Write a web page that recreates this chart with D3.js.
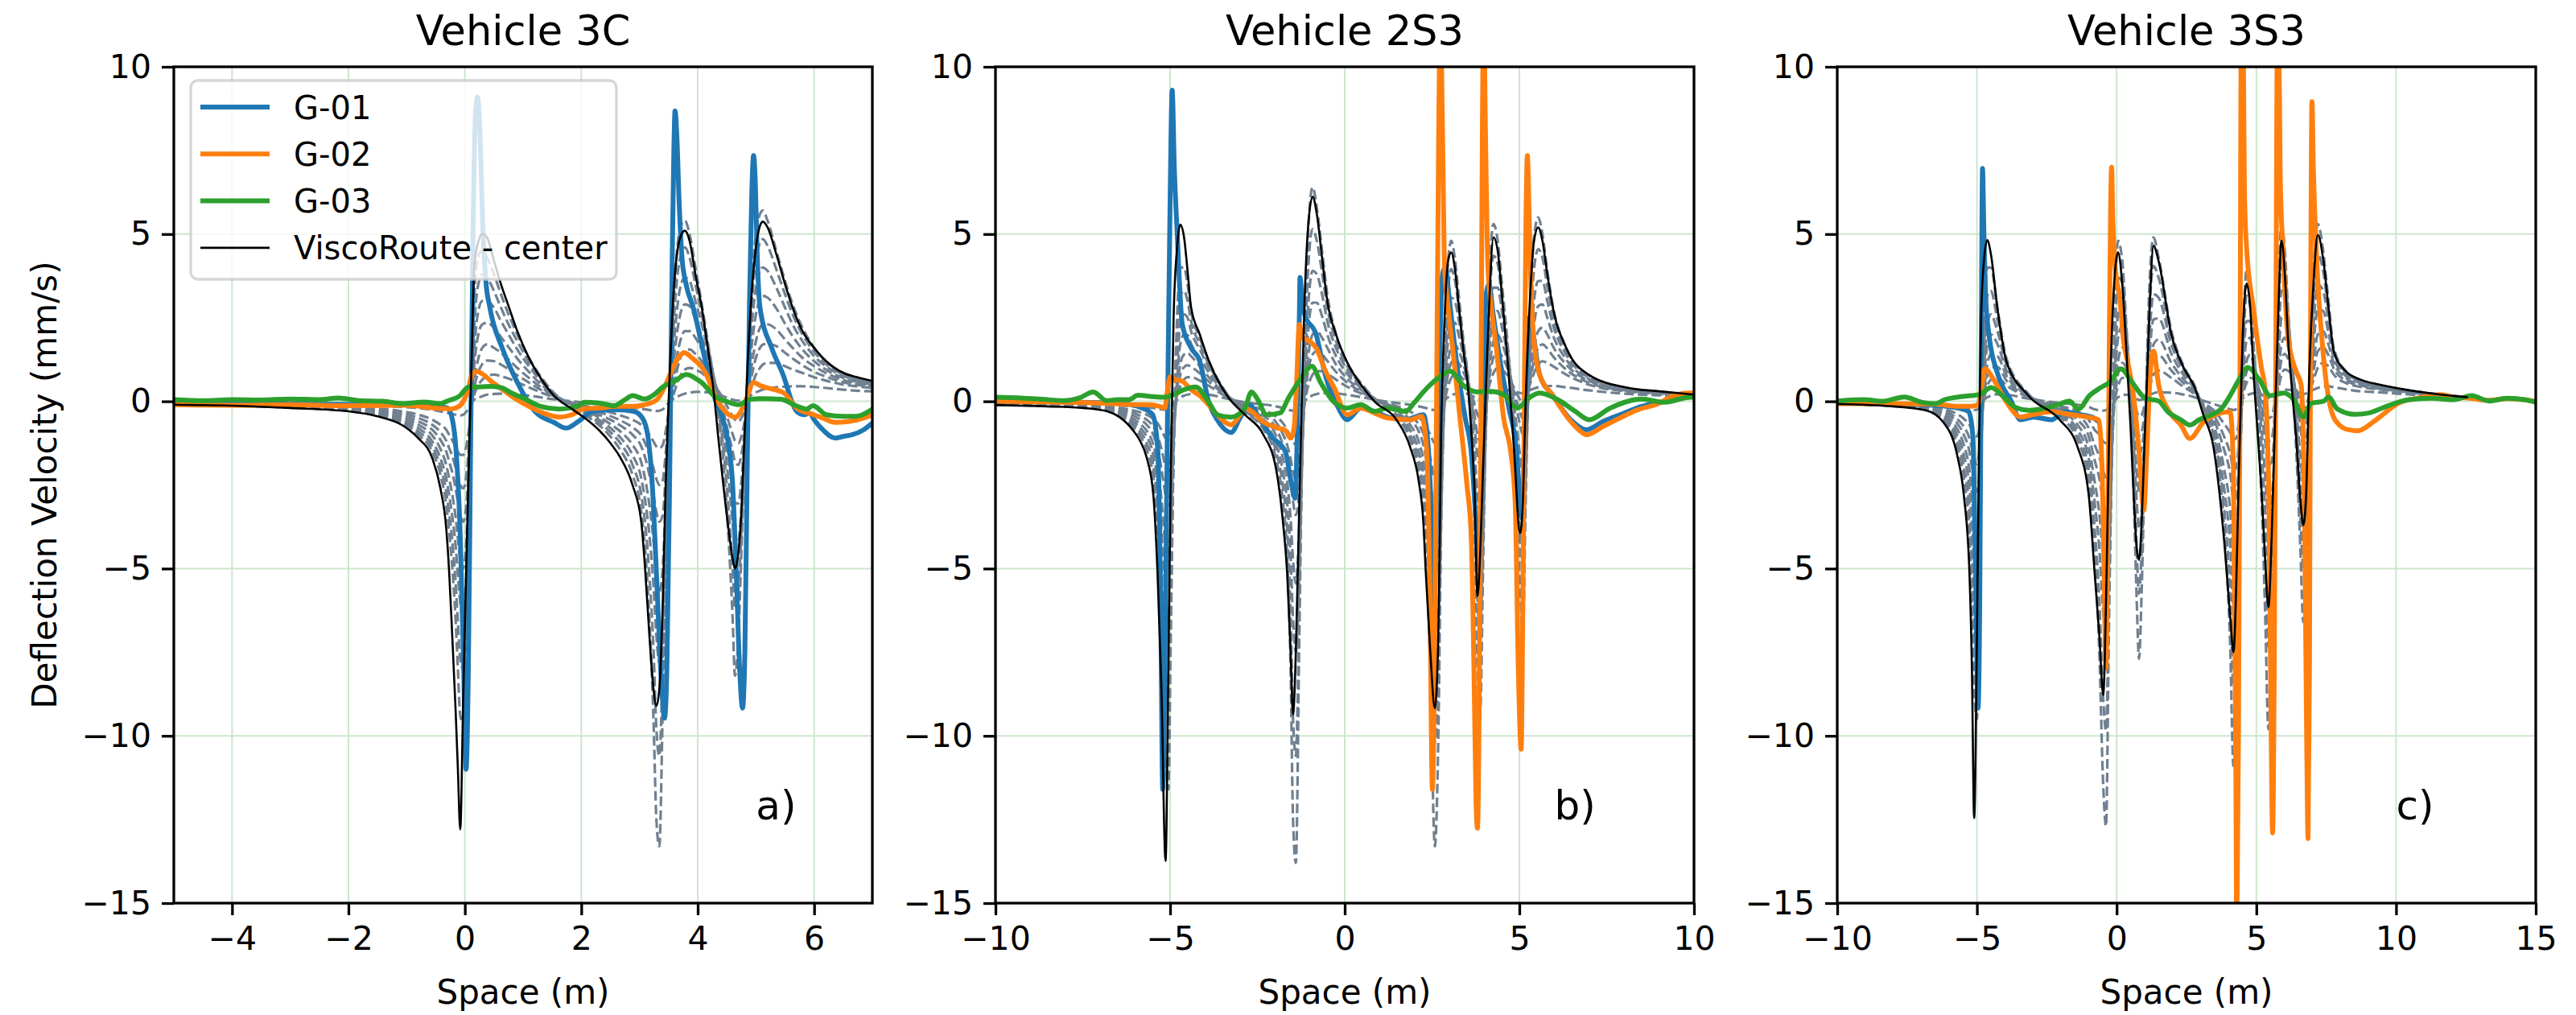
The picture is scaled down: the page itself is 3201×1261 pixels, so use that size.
<!DOCTYPE html>
<html><head><meta charset="utf-8">
<script src="https://cdn.jsdelivr.net/npm/d3@7"></script>
<style>body{margin:0;background:#fff}svg{display:block}text{font-family:"DejaVu Sans",sans-serif}</style>
</head><body>
<svg id="chart" width="3201" height="1261"></svg>
<script>
// ---------- DATA ----------
const titles = ["Vehicle 3C", "Vehicle 2S3", "Vehicle 3S3"];
const panelLabels = ["a)", "b)", "c)"];
const panelLabelX = [5, 6, 10];
const xDomains = [[-5, 7], [-10, 10], [-10, 15]];
const xTicks3C = [-4, -2, 0, 2, 4, 6];
const xTicks2S3 = [-10, -5, 0, 5, 10];
const xTicks3S3 = [-10, -5, 0, 5, 10, 15];
const yTicks = [-15, -10, -5, 0, 5, 10];
const legendLabels = ["G-01", "G-02", "G-03", "ViscoRoute - center"];
const seriesColors = ["#1f77b4", "#ff7f0e", "#2ca02c", "#000000"];

// ---- Vehicle 3C ----
const space3C = [-5,-4,-3,-2,-1.5,-1.07,-0.8,-0.56,-0.42,-0.32,-0.27,-0.22,-0.16,-0.12,-0.08,-0.03,0.03,0.08,0.12,0.16,0.22,0.3,0.38,0.5,0.62,0.75,0.9,1.1,1.3,1.53,1.84,2.1,2.31,2.5,2.67,2.88,3.03,3.1,3.17,3.24,3.29,3.34,3.4,3.45,3.5,3.56,3.63,3.7,3.78,3.86,3.96,4.07,4.18,4.28,4.36,4.44,4.52,4.6,4.64,4.7,4.75,4.8,4.86,4.93,5.0,5.07,5.12,5.2,5.35,5.5,5.63,5.8,6.0,6.2,6.5,6.72,7.0];
const center3C = [-0.1,-0.13,-0.2,-0.3,-0.45,-0.72,-1.1,-1.7,-2.6,-3.8,-5.1,-6.9,-9.2,-11,-12.8,-9,-4.5,-1,1.5,4.0,4.7,5.0,4.9,4.2,3.5,2.85,2.1,1.3,0.7,0.17,-0.23,-0.55,-0.87,-1.25,-1.68,-2.5,-3.6,-5.1,-7,-8.6,-9.1,-8.6,-6,-2.5,0,2.5,4.2,4.9,5.1,4.8,3.8,2.8,1.5,0.2,-1.2,-2.5,-3.7,-4.7,-5.0,-4.5,-3.3,-1.2,1.2,3.3,4.6,5.25,5.37,5.2,4.4,3.5,2.8,2.1,1.6,1.21,0.85,0.73,0.61];
const offsets3C = [
 [-0.1,-0.13,-0.19,-0.28,-0.42,-0.65,-1.0,-1.5,-2.2,-3.1,-3.9,-4.9,-6.5,-8.0,-9.4,-9.6,-6.5,-2.0,0.8,3.0,4.3,4.5,4.3,3.8,3.2,2.6,2.0,1.3,0.75,0.25,-0.15,-0.45,-0.72,-1.05,-1.45,-2.2,-3.3,-4.5,-6.5,-9.5,-12.5,-13.3,-9.0,-4.0,-0.5,2.0,4.2,5.2,5.4,5.0,4.0,2.9,1.7,0.6,-0.5,-1.8,-3.8,-6.5,-8.2,-7.0,-4.5,-1.8,1.2,3.6,5.0,5.6,5.7,5.4,4.5,3.6,2.9,2.2,1.6,1.2,0.85,0.7,0.58],
 [-0.1,-0.12,-0.18,-0.26,-0.39,-0.6,-0.9,-1.35,-1.95,-2.7,-3.35,-4.1,-5.4,-6.6,-7.7,-8.0,-5.8,-2.0,0.5,2.2,3.4,3.8,3.7,3.3,2.8,2.3,1.8,1.18,0.68,0.24,-0.13,-0.4,-0.64,-0.92,-1.25,-1.9,-2.8,-3.7,-5.2,-7.4,-9.8,-10.6,-7.8,-3.8,-0.65,1.5,3.4,4.3,4.6,4.3,3.5,2.6,1.6,0.65,-0.3,-1.4,-3.0,-5.0,-6.2,-5.6,-3.9,-1.7,0.9,3.0,4.2,4.75,4.85,4.65,3.95,3.2,2.6,2.0,1.48,1.12,0.8,0.66,0.55],
 [-0.1,-0.12,-0.17,-0.25,-0.36,-0.55,-0.8,-1.2,-1.7,-2.3,-2.8,-3.4,-4.3,-5.2,-6.0,-6.4,-5.0,-2.0,0.2,1.5,2.6,3.0,3.0,2.8,2.4,2.0,1.55,1.05,0.62,0.22,-0.12,-0.36,-0.56,-0.8,-1.08,-1.6,-2.3,-3.0,-4.0,-5.5,-7.0,-7.8,-6.5,-3.5,-0.8,1.0,2.5,3.4,3.7,3.6,3.0,2.3,1.5,0.7,-0.1,-1.0,-2.2,-3.6,-4.3,-4.2,-3.2,-1.6,0.6,2.3,3.4,3.9,4.0,3.9,3.4,2.8,2.3,1.8,1.35,1.05,0.76,0.63,0.53],
 [-0.1,-0.12,-0.16,-0.23,-0.32,-0.48,-0.7,-1.02,-1.42,-1.9,-2.3,-2.75,-3.45,-4.1,-4.7,-5.0,-4.0,-1.75,0.05,1.05,1.9,2.3,2.35,2.2,1.92,1.62,1.28,0.88,0.52,0.2,-0.1,-0.31,-0.48,-0.68,-0.9,-1.3,-1.82,-2.35,-3.1,-4.15,-5.15,-5.7,-4.95,-2.85,-0.75,0.65,1.85,2.6,2.9,2.85,2.45,1.92,1.3,0.68,0.05,-0.65,-1.55,-2.55,-3.05,-3.05,-2.4,-1.3,0.35,1.7,2.6,3.05,3.15,3.1,2.78,2.32,1.95,1.55,1.2,0.95,0.7,0.59,0.5],
 [-0.1,-0.12,-0.15,-0.21,-0.29,-0.42,-0.6,-0.85,-1.15,-1.5,-1.8,-2.1,-2.6,-3.0,-3.4,-3.6,-3.0,-1.5,-0.1,0.6,1.2,1.6,1.7,1.6,1.45,1.25,1.0,0.7,0.43,0.17,-0.08,-0.26,-0.4,-0.55,-0.72,-1.0,-1.35,-1.7,-2.2,-2.8,-3.3,-3.6,-3.4,-2.2,-0.7,0.3,1.2,1.8,2.1,2.1,1.9,1.55,1.1,0.65,0.2,-0.3,-0.9,-1.5,-1.8,-1.9,-1.6,-1.0,0.1,1.1,1.8,2.2,2.3,2.3,2.15,1.85,1.6,1.3,1.05,0.85,0.64,0.55,0.47],
 [-0.1,-0.11,-0.14,-0.19,-0.25,-0.36,-0.5,-0.7,-0.92,-1.18,-1.4,-1.62,-1.98,-2.25,-2.5,-2.6,-2.15,-1.1,-0.1,0.4,0.82,1.12,1.22,1.2,1.1,0.96,0.78,0.56,0.35,0.15,-0.06,-0.2,-0.32,-0.44,-0.57,-0.78,-1.02,-1.26,-1.6,-2.0,-2.32,-2.5,-2.35,-1.55,-0.52,0.18,0.82,1.28,1.52,1.55,1.42,1.2,0.89,0.56,0.25,-0.11,-0.55,-0.98,-1.18,-1.25,-1.05,-0.65,0.08,0.78,1.3,1.6,1.7,1.72,1.65,1.45,1.28,1.08,0.88,0.74,0.57,0.5,0.44],
 [-0.1,-0.11,-0.13,-0.17,-0.22,-0.3,-0.4,-0.55,-0.7,-0.85,-1.0,-1.15,-1.35,-1.5,-1.6,-1.6,-1.3,-0.7,-0.1,0.2,0.45,0.65,0.75,0.8,0.75,0.68,0.57,0.42,0.27,0.12,-0.04,-0.15,-0.24,-0.33,-0.42,-0.55,-0.7,-0.82,-1.0,-1.2,-1.35,-1.4,-1.3,-0.9,-0.35,0.05,0.45,0.75,0.95,1.0,0.95,0.85,0.68,0.48,0.3,0.08,-0.2,-0.45,-0.55,-0.6,-0.5,-0.3,0.05,0.45,0.8,1.0,1.1,1.15,1.15,1.05,0.95,0.85,0.72,0.62,0.5,0.45,0.4],
 [-0.1,-0.1,-0.1,-0.12,-0.14,-0.17,-0.2,-0.25,-0.3,-0.33,-0.36,-0.38,-0.4,-0.42,-0.42,-0.4,-0.3,-0.15,-0.02,0.05,0.1,0.15,0.2,0.22,0.23,0.22,0.2,0.17,0.12,0.06,0,-0.05,-0.09,-0.12,-0.15,-0.19,-0.22,-0.24,-0.26,-0.28,-0.29,-0.28,-0.24,-0.15,-0.05,0.05,0.12,0.18,0.23,0.26,0.28,0.28,0.27,0.24,0.2,0.15,0.1,0.05,0.03,0.02,0.03,0.06,0.12,0.2,0.27,0.32,0.35,0.38,0.42,0.44,0.45,0.45,0.43,0.4,0.35,0.32,0.3]
];
const g01_3C = [[-5,-0.05],[-3,-0.08],[-1,-0.1],[-0.5,-0.15],[-0.3,-0.2],[-0.22,-0.5],[-0.15,-1.5],[-0.08,-4],[-0.02,-8],[0.02,-11],[0.06,-8],[0.1,-1],[0.14,5],[0.18,8.5],[0.22,9.1],[0.26,8],[0.31,5.1],[0.36,3.6],[0.43,2.8],[0.64,1.6],[0.9,0.57],[1.21,-0.31],[1.53,-0.63],[1.74,-0.8],[1.95,-0.6],[2.2,-0.3],[2.6,-0.25],[2.9,-0.3],[3.05,-0.5],[3.14,-1.0],[3.22,-2.5],[3.3,-5.5],[3.38,-8.5],[3.43,-9.47],[3.47,-8],[3.52,-2],[3.56,4],[3.59,7.5],[3.61,8.68],[3.64,8],[3.68,6],[3.73,4.3],[3.8,3.5],[3.92,2.82],[4.12,1.3],[4.28,0.17],[4.44,-0.58],[4.52,-1.2],[4.6,-2.5],[4.66,-5],[4.72,-8],[4.77,-9.17],[4.81,-7.5],[4.85,-2],[4.89,3],[4.93,6.3],[4.96,7.35],[4.99,6.5],[5.02,4.5],[5.07,2.8],[5.27,1.6],[5.48,0.73],[5.63,-0.07],[5.7,-0.3],[5.84,-0.4],[5.92,-0.35],[6.0,-0.55],[6.15,-0.85],[6.36,-1.1],[6.5,-1.05],[6.65,-1.0],[6.85,-0.85],[7.0,-0.65]];
const g02_3C = [[-5,-0.1],[-4,-0.12],[-3,-0.1],[-2,-0.13],[-1,-0.12],[-0.5,-0.2],[-0.24,-0.23],[-0.1,-0.15],[0.0,0.1],[0.07,0.45],[0.12,0.8],[0.2,0.89],[0.3,0.82],[0.45,0.6],[0.65,0.35],[0.85,0.1],[1.1,-0.15],[1.35,-0.35],[1.62,-0.47],[1.84,-0.4],[2.05,-0.22],[2.3,-0.2],[2.6,-0.15],[2.9,-0.15],[3.09,-0.1],[3.3,0.05],[3.45,0.5],[3.6,1.1],[3.77,1.45],[3.9,1.3],[4.12,0.9],[4.33,0.05],[4.5,-0.35],[4.65,-0.47],[4.8,-0.1],[4.96,0.56],[5.1,0.45],[5.2,0.4],[5.48,0.25],[5.7,-0.2],[5.99,-0.4],[6.15,-0.5],[6.36,-0.63],[6.6,-0.6],[6.85,-0.5],[7.0,-0.4]];
const g03_3C = [[-5,0.05],[-4.5,0.02],[-4,0.05],[-3.5,0.04],[-3,0.07],[-2.5,0.05],[-2.17,0.1],[-1.8,0.02],[-1.4,0.0],[-1.07,-0.07],[-0.7,-0.02],[-0.42,-0.07],[-0.3,0.01],[-0.1,0.15],[0.07,0.43],[0.25,0.43],[0.45,0.45],[0.64,0.4],[0.8,0.25],[1.0,0.1],[1.3,-0.15],[1.62,-0.23],[1.95,-0.13],[2.05,-0.03],[2.3,-0.05],[2.56,-0.13],[2.75,0.05],[2.88,0.17],[3.09,0.07],[3.25,0.2],[3.4,0.43],[3.6,0.6],[3.81,0.8],[3.95,0.7],[4.07,0.56],[4.28,0.17],[4.49,0.0],[4.7,-0.1],[4.9,0.06],[5.1,0.08],[5.43,0.06],[5.69,-0.13],[5.87,-0.23],[5.98,-0.13],[6.21,-0.4],[6.5,-0.45],[6.72,-0.45],[7.0,-0.23]];

// ---- Vehicle 2S3 ----
const space2S3 = [-10,-8.5,-7.47,-6.8,-6.45,-6.06,-5.85,-5.67,-5.48,-5.36,-5.25,-5.13,-5.05,-4.98,-4.9,-4.8,-4.71,-4.6,-4.5,-4.4,-4.15,-3.89,-3.37,-2.86,-2.35,-1.97,-1.77,-1.65,-1.55,-1.48,-1.4,-1.3,-1.23,-1.15,-1.05,-0.92,-0.8,-0.65,-0.5,-0.25,0.1,0.5,0.85,1.48,1.87,2.12,2.25,2.32,2.45,2.58,2.68,2.76,2.86,2.96,3.05,3.15,3.27,3.4,3.53,3.63,3.72,3.8,3.88,3.96,4.03,4.12,4.26,4.38,4.5,4.68,4.85,5.02,5.1,5.18,5.3,5.42,5.54,5.66,5.8,5.96,6.34,6.98,8.13,9.0,10];
const center2S3 = [-0.11,-0.15,-0.2,-0.3,-0.47,-0.87,-1.2,-1.68,-2.8,-5.13,-8.5,-13.74,-8,-2,2.5,4.6,5.28,4.9,3.9,2.82,2.0,1.21,0.17,-0.4,-0.96,-2.0,-3.6,-5.1,-7.5,-9.36,-7.5,-3,0,3,5.2,6.12,5.6,4.3,3.0,2.0,1.1,0.45,0.0,-0.55,-1.36,-2.4,-3.6,-5.1,-7.5,-9.17,-7,-1,2.5,4.2,4.45,4.0,2.8,1.5,0.4,-1,-2.8,-5.82,-4.5,-2,0,2.5,4.9,4.5,3.2,1.0,-1.5,-3.95,-3.0,0,3,4.8,5.2,4.8,3.8,2.8,1.6,0.8,0.4,0.3,0.2];
const offsets2S3 = [
 [-0.11,-0.14,-0.19,-0.28,-0.43,-0.78,-1.05,-1.45,-2.3,-3.8,-6.5,-10.5,-11.6,-7.0,-1.5,2.5,4.0,4.0,3.5,2.7,1.9,1.2,0.22,-0.32,-0.8,-1.7,-3.0,-4.6,-8.0,-12.5,-13.8,-7.0,-2.0,1.8,5.0,6.4,5.8,4.5,3.2,2.0,1.1,0.5,0.08,-0.45,-1.15,-2.1,-3.2,-4.4,-8.0,-13.3,-10.0,-3.5,1.5,4.2,4.8,4.3,3.1,1.8,0.6,-1.2,-4.0,-8.0,-9.2,-5.0,-1.0,3.0,5.3,4.8,3.5,1.5,-1.2,-5.5,-7.0,-3.0,2.5,4.9,5.5,5.0,3.9,2.85,1.6,0.78,0.39,0.29,0.2],
 [-0.1,-0.13,-0.18,-0.26,-0.39,-0.69,-0.92,-1.25,-1.95,-3.1,-5.1,-8.1,-9.1,-6.0,-1.5,1.75,3.15,3.3,3.0,2.4,1.72,1.1,0.21,-0.29,-0.71,-1.48,-2.55,-3.8,-6.3,-9.5,-10.6,-6.0,-2.1,1.2,3.9,5.15,4.8,3.85,2.8,1.8,1.0,0.46,0.08,-0.4,-1.0,-1.8,-2.7,-3.65,-6.3,-10.2,-8.2,-3.5,1.0,3.35,3.95,3.65,2.75,1.7,0.65,-0.85,-3.1,-6.0,-6.9,-4.15,-1.1,2.3,4.35,4.1,3.1,1.45,-0.8,-4.0,-5.1,-2.4,1.85,3.95,4.55,4.3,3.45,2.58,1.5,0.75,0.38,0.28,0.2],
 [-0.1,-0.13,-0.17,-0.24,-0.35,-0.6,-0.8,-1.05,-1.6,-2.4,-3.8,-5.8,-6.6,-5.0,-1.5,1.0,2.3,2.6,2.5,2.1,1.55,1.0,0.2,-0.26,-0.62,-1.25,-2.1,-3.0,-4.6,-6.5,-7.5,-5.0,-2.2,0.6,2.8,3.9,3.8,3.2,2.4,1.6,0.9,0.42,0.08,-0.35,-0.85,-1.5,-2.2,-2.9,-4.6,-7.2,-6.5,-3.5,0.5,2.5,3.1,3.0,2.4,1.6,0.7,-0.5,-2.2,-4.0,-4.6,-3.3,-1.2,1.6,3.4,3.4,2.7,1.4,-0.4,-2.5,-3.2,-1.8,1.2,3.0,3.6,3.6,3.0,2.3,1.4,0.72,0.36,0.27,0.19],
 [-0.1,-0.12,-0.16,-0.22,-0.31,-0.51,-0.68,-0.88,-1.3,-1.9,-2.9,-4.3,-4.85,-3.8,-1.25,0.65,1.7,2.0,1.98,1.72,1.3,0.86,0.18,-0.22,-0.52,-1.02,-1.7,-2.38,-3.5,-4.75,-5.45,-3.85,-1.85,0.3,2.05,2.95,2.95,2.55,2.0,1.35,0.78,0.37,0.08,-0.3,-0.7,-1.2,-1.75,-2.28,-3.5,-5.25,-4.9,-2.85,0.25,1.85,2.35,2.35,1.95,1.35,0.65,-0.22,-1.5,-2.8,-3.25,-2.4,-0.9,1.15,2.6,2.7,2.22,1.25,-0.12,-1.6,-2.1,-1.15,0.9,2.3,2.85,2.9,2.5,1.98,1.25,0.67,0.35,0.26,0.18],
 [-0.1,-0.12,-0.15,-0.2,-0.27,-0.42,-0.55,-0.7,-1.0,-1.4,-2.0,-2.8,-3.1,-2.6,-1.0,0.3,1.1,1.4,1.45,1.35,1.05,0.72,0.17,-0.18,-0.42,-0.8,-1.3,-1.75,-2.4,-3.0,-3.4,-2.7,-1.5,0.0,1.3,2.0,2.1,1.9,1.6,1.1,0.65,0.32,0.07,-0.24,-0.55,-0.9,-1.3,-1.65,-2.4,-3.3,-3.3,-2.2,0.0,1.2,1.6,1.7,1.5,1.1,0.6,0.05,-0.8,-1.6,-1.9,-1.5,-0.6,0.7,1.8,2.0,1.75,1.1,0.15,-0.7,-1.0,-0.5,0.6,1.6,2.1,2.2,2.0,1.65,1.1,0.62,0.33,0.25,0.18],
 [-0.1,-0.11,-0.14,-0.18,-0.23,-0.34,-0.44,-0.55,-0.76,-1.02,-1.42,-1.95,-2.1,-1.75,-0.68,0.2,0.78,1.02,1.08,1.03,0.84,0.59,0.15,-0.14,-0.34,-0.62,-0.98,-1.3,-1.72,-2.1,-2.35,-1.85,-1.02,-0.02,0.88,1.4,1.5,1.4,1.21,0.88,0.54,0.27,0.06,-0.19,-0.42,-0.69,-0.96,-1.2,-1.7,-2.28,-2.25,-1.5,0.0,0.82,1.15,1.25,1.14,0.88,0.52,0.14,-0.45,-1.0,-1.2,-0.92,-0.3,0.55,1.32,1.5,1.35,0.92,0.28,-0.32,-0.52,-0.18,0.55,1.22,1.6,1.7,1.58,1.35,0.95,0.56,0.31,0.24,0.17],
 [-0.1,-0.11,-0.13,-0.16,-0.2,-0.27,-0.33,-0.4,-0.52,-0.65,-0.85,-1.1,-1.15,-0.9,-0.35,0.1,0.45,0.65,0.72,0.72,0.62,0.46,0.13,-0.1,-0.25,-0.45,-0.65,-0.85,-1.05,-1.2,-1.3,-1.0,-0.55,-0.05,0.45,0.8,0.9,0.9,0.82,0.65,0.42,0.22,0.06,-0.14,-0.3,-0.48,-0.62,-0.75,-1.0,-1.25,-1.2,-0.8,0.0,0.45,0.7,0.8,0.78,0.65,0.45,0.22,-0.1,-0.4,-0.5,-0.35,0.0,0.4,0.85,1.0,0.95,0.75,0.4,0.05,-0.05,0.15,0.5,0.85,1.1,1.2,1.15,1.05,0.8,0.5,0.29,0.22,0.16],
 [-0.1,-0.1,-0.11,-0.12,-0.13,-0.15,-0.16,-0.18,-0.2,-0.22,-0.24,-0.25,-0.24,-0.18,-0.05,0.05,0.12,0.17,0.2,0.22,0.22,0.2,0.08,-0.03,-0.09,-0.15,-0.2,-0.24,-0.27,-0.28,-0.27,-0.2,-0.1,0.0,0.1,0.18,0.22,0.24,0.25,0.24,0.19,0.12,0.05,-0.05,-0.1,-0.15,-0.18,-0.2,-0.24,-0.26,-0.22,-0.12,0.02,0.12,0.18,0.22,0.24,0.24,0.22,0.18,0.12,0.07,0.05,0.07,0.12,0.2,0.28,0.32,0.34,0.33,0.3,0.25,0.24,0.27,0.33,0.38,0.42,0.45,0.46,0.46,0.42,0.33,0.22,0.18,0.14]
];
const g01_2S3 = [[-10,0.0],[-8,-0.02],[-6.5,-0.05],[-5.8,-0.2],[-5.5,-0.4],[-5.35,-1.5],[-5.27,-6],[-5.21,-11.6],[-5.15,-8],[-5.07,0],[-5.0,6],[-4.94,9.3],[-4.88,7],[-4.8,5.1],[-4.65,2.3],[-4.4,1.6],[-4.15,1.2],[-3.9,0.0],[-3.65,-0.55],[-3.25,-0.93],[-3.0,-0.5],[-2.74,-0.1],[-2.5,-0.4],[-2.1,-1.05],[-1.7,-1.5],[-1.52,-2.5],[-1.42,-2.9],[-1.36,-1],[-1.3,2.5],[-1.28,3.7],[-1.22,3.0],[-1.15,2.6],[-0.82,2.0],[-0.56,0.8],[-0.18,-0.2],[0.07,-0.55],[0.46,-0.2],[0.85,-0.3],[1.23,-0.47],[1.74,-0.55],[2.25,-0.4],[2.4,-1.5],[2.5,-4],[2.56,-6],[2.64,-3],[2.72,1.5],[2.8,3.8],[2.88,4.0],[3.0,3.0],[3.2,1.2],[3.45,-0.5],[3.62,-1.5],[3.75,-3.5],[3.83,-5.0],[3.9,-3],[3.97,0.5],[4.05,3.2],[4.13,3.5],[4.25,2.6],[4.45,1.2],[4.7,-0.2],[4.92,-1.5],[5.02,-3.0],[5.08,-3.5],[5.14,-1.5],[5.2,1.0],[5.28,2.5],[5.36,2.2],[5.58,0.8],[5.96,0.17],[6.47,-0.55],[6.92,-0.85],[7.4,-0.6],[7.88,-0.4],[8.5,-0.15],[9.15,0.0],[9.5,0.1],[10,0.2]];
const g02_2S3 = [[-10,0.0],[-8.5,-0.02],[-7,-0.05],[-6,-0.1],[-5.6,-0.1],[-5.3,-0.15],[-5.15,-0.2],[-5.08,0.3],[-5.0,0.73],[-4.85,0.65],[-4.65,0.6],[-4.4,0.35],[-4.15,0.17],[-3.9,-0.1],[-3.65,-0.4],[-3.25,-0.7],[-3.0,-0.4],[-2.86,-0.2],[-2.6,-0.35],[-2.35,-0.6],[-1.9,-0.8],[-1.7,-0.87],[-1.55,-1.1],[-1.45,-0.8],[-1.38,0.5],[-1.3,2.3],[-1.22,1.9],[-1.0,1.8],[-0.82,1.6],[-0.55,0.9],[-0.3,0.4],[0.07,-0.4],[0.46,-0.2],[0.85,-0.35],[1.23,-0.5],[1.87,-0.55],[2.2,-0.45],[2.35,-1.5],[2.44,-6],[2.51,-11.6],[2.57,-8],[2.63,0],[2.69,8],[2.74,11.5],[2.8,8],[2.86,4],[2.96,2.8],[3.1,1.5],[3.3,-0.5],[3.5,-2.5],[3.62,-4],[3.7,-8],[3.76,-12],[3.8,-12.76],[3.85,-9],[3.9,0],[3.94,8],[3.98,11.5],[4.03,8],[4.1,4],[4.2,2.8],[4.35,1.5],[4.55,-0.5],[4.75,-1.5],[4.88,-3],[4.97,-8],[5.05,-10.4],[5.1,-6],[5.15,1],[5.19,5.5],[5.23,7.35],[5.27,6],[5.33,3.5],[5.42,1.8],[5.58,0.8],[5.96,0.17],[6.47,-0.6],[6.7,-0.85],[6.92,-1.0],[7.4,-0.75],[7.88,-0.5],[8.4,-0.25],[8.9,-0.1],[9.5,0.2],[9.9,0.25],[10,0.25]];
const g03_2S3 = [[-10,0.12],[-8.74,0.07],[-8.05,0.02],[-7.6,0.1],[-7.2,0.28],[-6.82,0.02],[-6.5,0.05],[-6.18,0.05],[-5.92,0.18],[-5.5,0.14],[-5.15,0.12],[-4.9,0.2],[-4.65,0.33],[-4.27,0.43],[-3.89,-0.03],[-3.65,-0.4],[-3.25,-0.47],[-2.86,-0.2],[-2.67,0.28],[-2.5,0.07],[-2.24,-0.4],[-1.86,-0.35],[-1.6,0.12],[-1.27,0.66],[-0.94,1.05],[-0.69,0.56],[-0.3,-0.03],[0.07,-0.2],[0.46,-0.1],[0.85,-0.3],[1.23,-0.2],[1.74,-0.3],[2.0,-0.03],[2.25,0.28],[2.63,0.66],[3.02,0.9],[3.4,0.47],[3.8,0.28],[4.17,0.3],[4.55,0.2],[4.94,-0.2],[5.3,0.12],[5.58,0.25],[6.1,0.05],[6.6,-0.3],[7.0,-0.55],[7.6,-0.2],[8.5,0.07],[9.15,-0.03],[9.9,0.12],[10,0.12]];

// ---- Vehicle 3S3 ----
const space3S3 = [-10,-8,-6.83,-6.2,-5.71,-5.47,-5.27,-5.18,-5.1,-5.0,-4.92,-4.85,-4.75,-4.63,-4.5,-4.27,-3.95,-3.16,-2.04,-1.4,-1.0,-0.79,-0.62,-0.48,-0.38,-0.28,-0.15,0.05,0.2,0.35,0.5,0.62,0.72,0.8,0.9,1.0,1.08,1.18,1.32,1.5,1.96,2.4,2.8,3.1,3.45,3.83,4.07,4.18,4.28,4.36,4.51,4.65,4.78,4.89,5.05,5.18,5.32,5.43,5.55,5.66,5.78,5.9,6.02,6.13,6.28,6.43,6.58,6.68,6.78,6.9,7.05,7.2,7.39,7.58,7.77,8.2,8.73,9.4,10.05,11.6,12.57];
const center3S3 = [-0.08,-0.15,-0.27,-0.63,-1.6,-2.8,-5.1,-8,-12.46,-7,-1,2.5,4.2,4.82,4.4,2.8,1.21,0.17,-0.55,-1.36,-2.8,-5.1,-7,-8.78,-6,-1.5,2.5,4.45,3.5,1.5,-0.8,-3.0,-4.4,-4.74,-3.5,-1.2,0.5,2.8,4.65,4.2,2.0,1.0,0.4,-0.4,-1.3,-4.0,-6.5,-7.5,-5.5,-2.6,1.93,3.52,2.8,1.0,-1.0,-2.6,-4.8,-6.15,-4.0,-0.8,2.5,4.8,3.8,1.93,0.3,-1.15,-3.0,-3.7,-2.8,1.0,3.6,4.97,4.26,2.82,1.5,0.9,0.65,0.5,0.39,0.2,0.12];
const offsets3S3 = [
 [-0.08,-0.14,-0.25,-0.56,-1.35,-2.3,-4.0,-6.0,-8.5,-9.5,-6.0,-1.5,2.0,4.0,4.0,2.8,1.3,0.22,-0.45,-1.15,-2.4,-4.5,-7.5,-11.5,-12.7,-7.0,-0.5,4.8,4.2,2.2,-0.2,-3.0,-6.0,-7.7,-5.5,-2.0,1.0,3.6,4.9,4.3,2.1,1.05,0.45,-0.3,-1.1,-3.6,-7.5,-10.9,-9.5,-5.0,1.5,3.9,3.3,1.8,-0.6,-2.8,-6.5,-9.8,-7.0,-2.0,3.0,5.3,4.5,2.8,0.8,-1.5,-4.5,-6.6,-5.5,-0.5,3.8,5.3,4.5,3.0,1.6,0.9,0.63,0.48,0.38,0.2,0.12],
 [-0.08,-0.13,-0.23,-0.5,-1.18,-1.95,-3.3,-4.8,-6.65,-7.5,-5.1,-1.55,1.4,3.15,3.3,2.45,1.2,0.21,-0.4,-1.0,-2.05,-3.75,-5.95,-8.9,-9.85,-6.0,-0.85,3.7,3.55,2.1,0.1,-2.2,-4.5,-5.75,-4.35,-1.75,0.65,2.8,4.05,3.7,1.9,0.98,0.42,-0.25,-0.95,-3.05,-5.95,-8.55,-7.65,-4.4,1.05,3.15,2.85,1.7,-0.25,-2.05,-4.9,-7.35,-5.6,-1.9,2.25,4.3,3.9,2.65,0.95,-1.05,-3.5,-5.0,-4.35,-0.5,3.05,4.4,3.9,2.7,1.52,0.86,0.6,0.46,0.37,0.2,0.12],
 [-0.08,-0.13,-0.22,-0.45,-1.0,-1.6,-2.6,-3.6,-4.8,-5.5,-4.2,-1.6,0.8,2.3,2.6,2.1,1.1,0.2,-0.35,-0.85,-1.7,-3.0,-4.4,-6.3,-7.0,-5.0,-1.2,2.6,2.9,2.0,0.4,-1.4,-3.0,-3.8,-3.2,-1.5,0.3,2.0,3.2,3.1,1.7,0.9,0.4,-0.2,-0.8,-2.5,-4.4,-6.2,-5.8,-3.8,0.6,2.4,2.4,1.6,0.1,-1.3,-3.3,-4.9,-4.2,-1.8,1.5,3.3,3.3,2.5,1.1,-0.6,-2.5,-3.4,-3.2,-0.5,2.3,3.5,3.3,2.4,1.45,0.82,0.58,0.45,0.36,0.19,0.12],
 [-0.08,-0.12,-0.2,-0.39,-0.82,-1.3,-2.05,-2.78,-3.6,-4.1,-3.2,-1.3,0.5,1.7,2.0,1.72,0.94,0.18,-0.3,-0.7,-1.38,-2.38,-3.35,-4.65,-5.15,-3.8,-1.05,1.9,2.25,1.65,0.48,-0.9,-2.1,-2.7,-2.3,-1.1,0.15,1.45,2.45,2.48,1.42,0.78,0.35,-0.15,-0.65,-1.95,-3.3,-4.55,-4.35,-2.9,0.4,1.8,1.9,1.38,0.28,-0.8,-2.25,-3.4,-3.0,-1.3,1.05,2.5,2.6,2.08,1.05,-0.25,-1.65,-2.35,-2.2,-0.25,1.75,2.75,2.7,2.05,1.3,0.76,0.55,0.43,0.35,0.19,0.12],
 [-0.08,-0.12,-0.18,-0.33,-0.65,-1.0,-1.5,-1.95,-2.4,-2.7,-2.2,-1.0,0.2,1.1,1.4,1.35,0.78,0.17,-0.24,-0.55,-1.05,-1.75,-2.3,-3.0,-3.3,-2.6,-0.9,1.2,1.6,1.3,0.55,-0.4,-1.2,-1.6,-1.4,-0.7,0.0,0.9,1.7,1.85,1.15,0.65,0.3,-0.1,-0.5,-1.4,-2.2,-2.9,-2.9,-2.0,0.2,1.2,1.4,1.15,0.45,-0.3,-1.2,-1.9,-1.8,-0.8,0.6,1.7,1.9,1.65,1.0,0.1,-0.8,-1.3,-1.2,0.0,1.2,2.0,2.1,1.7,1.15,0.7,0.51,0.41,0.33,0.18,0.11],
 [-0.08,-0.11,-0.16,-0.28,-0.52,-0.76,-1.1,-1.4,-1.7,-1.88,-1.52,-0.7,0.12,0.78,1.02,1.03,0.63,0.15,-0.19,-0.42,-0.8,-1.3,-1.65,-2.1,-2.28,-1.78,-0.6,0.82,1.15,0.99,0.48,-0.18,-0.75,-1.02,-0.9,-0.41,0.06,0.66,1.25,1.38,0.92,0.54,0.26,-0.07,-0.38,-1.02,-1.58,-2.02,-2.0,-1.35,0.18,0.88,1.05,0.92,0.45,-0.08,-0.72,-1.2,-1.12,-0.42,0.48,1.25,1.42,1.28,0.85,0.22,-0.4,-0.75,-0.68,0.12,0.92,1.5,1.62,1.38,0.98,0.62,0.47,0.38,0.31,0.17,0.1],
 [-0.08,-0.11,-0.15,-0.23,-0.38,-0.52,-0.7,-0.85,-1.0,-1.05,-0.85,-0.4,0.05,0.45,0.65,0.72,0.48,0.13,-0.14,-0.3,-0.55,-0.85,-1.0,-1.2,-1.25,-0.95,-0.3,0.45,0.7,0.68,0.42,0.05,-0.3,-0.45,-0.4,-0.12,0.12,0.42,0.8,0.92,0.7,0.43,0.21,-0.03,-0.25,-0.65,-0.95,-1.15,-1.1,-0.7,0.15,0.55,0.7,0.68,0.45,0.15,-0.25,-0.5,-0.45,-0.05,0.35,0.8,0.95,0.92,0.7,0.35,0.0,-0.2,-0.15,0.25,0.65,1.0,1.15,1.05,0.8,0.55,0.43,0.36,0.29,0.16,0.1],
 [-0.08,-0.1,-0.12,-0.14,-0.17,-0.2,-0.23,-0.25,-0.26,-0.25,-0.2,-0.08,0.04,0.12,0.17,0.21,0.2,0.08,-0.05,-0.1,-0.17,-0.24,-0.27,-0.28,-0.26,-0.18,-0.05,0.12,0.18,0.2,0.18,0.12,0.07,0.04,0.05,0.09,0.13,0.18,0.24,0.27,0.26,0.2,0.12,0.02,-0.07,-0.18,-0.24,-0.26,-0.23,-0.13,0.08,0.17,0.22,0.24,0.23,0.2,0.14,0.1,0.1,0.15,0.23,0.3,0.34,0.35,0.33,0.3,0.25,0.22,0.23,0.28,0.35,0.4,0.44,0.45,0.42,0.36,0.3,0.27,0.23,0.14,0.09]
];
const g01_3S3 = [[-10,-0.05],[-8,-0.08],[-6.5,-0.12],[-5.7,-0.2],[-5.3,-0.3],[-5.15,-1],[-5.05,-5],[-4.96,-9.17],[-4.9,-6],[-4.85,1],[-4.8,6.96],[-4.75,5],[-4.68,3],[-4.57,2.0],[-4.25,0.8],[-3.77,0.0],[-3.45,-0.55],[-2.97,-0.47],[-2.33,-0.55],[-1.85,-0.31],[-1.37,-0.39],[-0.89,-0.47],[-0.65,-0.6]];
const g02_3S3 = [[-10,-0.07],[-8,-0.07],[-6.5,-0.08],[-5.7,-0.15],[-5.2,-0.15],[-4.95,-0.1],[-4.82,0.5],[-4.73,0.97],[-4.4,0.65],[-4.1,0.2],[-3.77,-0.23],[-3.45,-0.47],[-2.97,-0.39],[-2.33,-0.31],[-1.69,-0.39],[-1.05,-0.47],[-0.65,-0.55],[-0.52,-2],[-0.45,-5],[-0.38,-7.98],[-0.32,-4],[-0.26,2],[-0.22,5.5],[-0.18,7.0],[-0.14,5.5],[-0.05,4.0],[0.11,3.1],[0.25,1.8],[0.4,1.16],[0.6,0.2],[0.8,-1.5],[0.97,-3.25],[1.08,-1.5],[1.2,0.8],[1.32,1.5],[1.5,0.5],[1.83,-0.23],[2.3,-0.71],[2.62,-1.11],[3.1,-0.63],[3.58,-0.39],[4.06,-0.31],[4.18,-2],[4.26,-10],[4.3,-16],[4.36,-10],[4.42,2],[4.46,11],[4.52,11],[4.58,6],[4.65,4.6],[4.89,2.8],[5.18,1.0],[5.32,0.3],[5.45,-3],[5.52,-9],[5.58,-12.9],[5.64,-8],[5.7,2],[5.75,10.5],[5.8,10.5],[5.86,6.5],[5.95,4.6],[6.13,1.93],[6.42,0.9],[6.6,0.5],[6.72,-3],[6.8,-10],[6.85,-13.07],[6.9,-8],[6.94,2],[6.99,8.96],[7.04,7],[7.14,4.6],[7.39,1.45],[7.67,-0.24],[7.96,-0.7],[8.3,-0.85],[8.64,-0.88],[9.21,-0.6],[9.6,-0.35],[10.05,-0.07],[10.8,0.1],[11.6,0.2],[12.1,0.12],[12.57,0.1],[13.3,0.03],[14,0.08],[15,0.0]];
const g03_3S3 = [[-10,0.01],[-9.04,0.05],[-8.4,0.0],[-7.6,0.13],[-6.96,-0.03],[-6.48,-0.07],[-6.16,0.05],[-5.68,0.13],[-5.2,0.17],[-4.89,0.21],[-4.49,0.41],[-4.09,0.17],[-3.6,-0.19],[-3.13,-0.27],[-2.49,-0.19],[-2.0,-0.07],[-1.69,0.01],[-1.37,-0.23],[-0.97,0.17],[-0.57,0.41],[-0.25,0.57],[0.15,0.97],[0.55,0.57],[1.03,0.09],[1.5,0.01],[1.83,-0.31],[2.3,-0.55],[2.62,-0.71],[2.95,-0.55],[3.42,-0.39],[3.74,-0.23],[4.06,0.17],[4.38,0.65],[4.7,1.01],[5.1,0.65],[5.5,0.17],[5.98,0.25],[6.3,0.09],[6.7,-0.47],[6.94,-0.07],[7.42,0.01],[7.58,0.13],[7.9,-0.23],[8.54,-0.39],[9.02,-0.35],[9.66,-0.15],[10.46,0.05],[11.26,0.09],[12.06,0.05],[12.7,0.17],[13.33,0.01],[13.97,0.09],[14.6,0.05],[15,-0.03]];

// ---------- LAYOUT ----------
const axTop = 83, axBottom = 1122;
const panelX = [[216, 1084], [1237, 2105], [2283, 3151]];
const panels = [
  {space: space3C, center: center3C, offsets: offsets3C, g: [g01_3C, g02_3C, g03_3C], ticks: xTicks3C},
  {space: space2S3, center: center2S3, offsets: offsets2S3, g: [g01_2S3, g02_2S3, g03_2S3], ticks: xTicks2S3},
  {space: space3S3, center: center3S3, offsets: offsets3S3, g: [g01_3S3, g02_3S3, g03_3S3], ticks: xTicks3S3}
];

const svg = d3.select("#chart");
const y = d3.scaleLinear().domain([-15, 10]).range([axBottom, axTop]);
const FONT = '"DejaVu Sans", sans-serif';
const minus = v => String(v).replace("-", "\u2212");
const zip = (xs, ys) => ys.map((v, i) => [xs[i], v]).filter(d => d[0] !== undefined);

panels.forEach((p, i) => {
  const [L, R] = panelX[i];
  const x = d3.scaleLinear().domain(xDomains[i]).range([L, R]);
  const g = svg.append("g");
  const clipId = "clip" + i;
  svg.append("clipPath").attr("id", clipId).append("rect")
    .attr("x", L).attr("y", axTop).attr("width", R - L).attr("height", axBottom - axTop);

  // grid
  const grid = g.append("g").attr("stroke", "#cce6cc").attr("stroke-width", 2);
  p.ticks.forEach(t => grid.append("line").attr("x1", x(t)).attr("x2", x(t)).attr("y1", axTop).attr("y2", axBottom));
  yTicks.forEach(t => grid.append("line").attr("x1", L).attr("x2", R).attr("y1", y(t)).attr("y2", y(t)));

  const line = d3.line().x(d => x(d[0])).y(d => y(d[1])).curve(d3.curveMonotoneX);
  const plot = g.append("g").attr("clip-path", `url(#${clipId})`);

  // ViscoRoute lateral offsets (dashed grey)
  p.offsets.forEach(arr => {
    plot.append("path").attr("d", line(zip(p.space, arr)))
      .attr("fill", "none").attr("stroke", "#708090").attr("stroke-width", 3.2)
      .attr("stroke-dasharray", "12,5");
  });
  // measurements
  p.g.forEach((arr, k) => {
    plot.append("path").attr("d", line(arr))
      .attr("fill", "none").attr("stroke", seriesColors[k]).attr("stroke-width", 6)
      .attr("stroke-linejoin", "round").attr("stroke-linecap", "round");
  });
  // center
  plot.append("path").attr("d", line(zip(p.space, p.center)))
    .attr("fill", "none").attr("stroke", "#000").attr("stroke-width", 2.6)
    .attr("stroke-linejoin", "round");

  // spines
  g.append("rect").attr("x", L).attr("y", axTop).attr("width", R - L).attr("height", axBottom - axTop)
    .attr("fill", "none").attr("stroke", "#000").attr("stroke-width", 3.3);

  // axes
  const xa = g.append("g").attr("transform", `translate(0,${axBottom})`)
    .call(d3.axisBottom(x).tickValues(p.ticks).tickSize(15).tickPadding(14).tickFormat(minus));
  xa.select(".domain").remove();
  xa.selectAll("line").attr("stroke-width", 3.3);
  xa.selectAll("text").attr("font-family", FONT).attr("font-size", 41).attr("fill", "#000");

  const ya = g.append("g").attr("transform", `translate(${L},0)`)
    .call(d3.axisLeft(y).tickValues(yTicks).tickSize(15).tickPadding(13).tickFormat(minus));
  ya.select(".domain").remove();
  ya.selectAll("line").attr("stroke-width", 3.3);
  ya.selectAll("text").attr("font-family", FONT).attr("font-size", 41).attr("fill", "#000");

  // title & labels
  g.append("text").attr("x", (L + R) / 2).attr("y", 56).attr("text-anchor", "middle")
    .attr("font-family", FONT).attr("font-size", 51).text(titles[i]);
  g.append("text").attr("x", (L + R) / 2).attr("y", 1247).attr("text-anchor", "middle")
    .attr("font-family", FONT).attr("font-size", 42).text("Space (m)");
  g.append("text").attr("x", x(panelLabelX[i])).attr("y", y(-12.5))
    .attr("font-family", FONT).attr("font-size", 50).text(panelLabels[i]);

  if (i === 0) {
    g.append("text").attr("transform", `translate(70,${(axTop + axBottom) / 2}) rotate(-90)`)
      .attr("text-anchor", "middle").attr("font-family", FONT).attr("font-size", 42)
      .text("Deflection Velocity (mm/s)");
    // legend
    const lg = g.append("g");
    lg.append("rect").attr("x", 237).attr("y", 100).attr("width", 529).attr("height", 247)
      .attr("rx", 9).attr("fill", "#fff").attr("fill-opacity", 0.8)
      .attr("stroke", "#cccccc").attr("stroke-opacity", 0.8).attr("stroke-width", 3.3);
    legendLabels.forEach((lab, k) => {
      const cy = 133 + k * 58.3;
      lg.append("line").attr("x1", 249).attr("x2", 335).attr("y1", cy).attr("y2", cy)
        .attr("stroke", seriesColors[k]).attr("stroke-width", k < 3 ? 6 : 2.6);
      lg.append("text").attr("x", 365).attr("y", cy + 14.5).attr("font-family", FONT)
        .attr("font-size", 40).text(lab);
    });
  }
});
</script>
</body></html>
